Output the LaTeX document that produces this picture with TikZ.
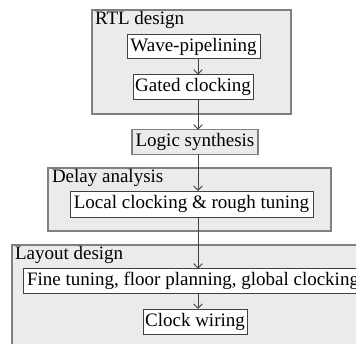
\documentclass[tikz,border=0pt]{standalone}
\usepackage{fontspec}
\setmainfont{Liberation Serif}
\usetikzlibrary{arrows.meta}
\definecolor{grpfill}{HTML}{EBEBEB}
\definecolor{grpline}{HTML}{808080}
\definecolor{boxline}{HTML}{404040}

\begin{document}
\begin{tikzpicture}[x=1pt,y=-1pt,
    every node/.style={font=\fontsize{19}{22}\selectfont,inner sep=0pt,outer sep=0pt},
    group/.style={draw=grpline,fill=grpfill,line width=1.3pt,minimum width=#1},
    stage/.style={draw=boxline,fill=white,line width=0.9pt,minimum height=24.5pt},
    grey stage/.style={stage,draw=grpline,fill=grpfill,line width=1.3pt},
    title/.style={anchor=north west},
    arr/.style={draw=boxline,line width=0.9pt,-{Straight Barb[length=4.5pt,width=8.5pt]}}]
  \clip (0,0) rectangle (356,343);
  \fill[white] (0,0) rectangle (356,343);
  % Design flow
  \node[group=199pt,minimum height=104pt] (RTL) at (191.5,62) {};
  \node[title] (RTLt) at (RTL.north west) [xshift=3pt,yshift=-1.5pt] {RTL design};
  \node[stage,minimum width=133pt] (Wave) at (193.5,46.5) {Wave-pipelining};
  \node[stage,minimum width=120pt] (Gated) at (193,87) {Gated clocking};
  \node[grey stage,minimum width=126pt] (Logic) at (195,142) {Logic synthesis};
  \node[group=283pt,minimum height=63pt] (Delay) at (189.5,199.5) {};
  \node[title] (Delayt) at (Delay.north west) [xshift=4pt,yshift=-1.5pt] {Delay analysis};
  \node[stage,minimum width=243pt,minimum height=26pt] (Local) at (191.5,204) {Local clocking \& rough tuning};
  \node[group=360pt,minimum height=130pt] (Layout) at (192,310) {};
  \node[title] (Layoutt) at (Layout.north west) [xshift=3pt,yshift=-1.5pt] {Layout design};
  \node[stage,minimum width=340pt] (Fine) at (193,281) {Fine tuning, floor planning, global clocking};
  \node[stage,minimum width=104pt,minimum height=25pt] (Clock) at (195,321.5) {Clock wiring};

  \coordinate (spine) at (198,0);
  \draw[arr] (Wave.south -| spine)  -- (Gated.north -| spine);
  \draw[arr] (Gated.south -| spine) -- (Logic.north -| spine);
  \draw[arr] (Logic.south -| spine) -- (Local.north -| spine);
  \draw[arr] (Local.south -| spine) -- (Fine.north -| spine);
  \draw[arr] (Fine.south -| spine)  -- (Clock.north -| spine);
\end{tikzpicture}
\end{document}
